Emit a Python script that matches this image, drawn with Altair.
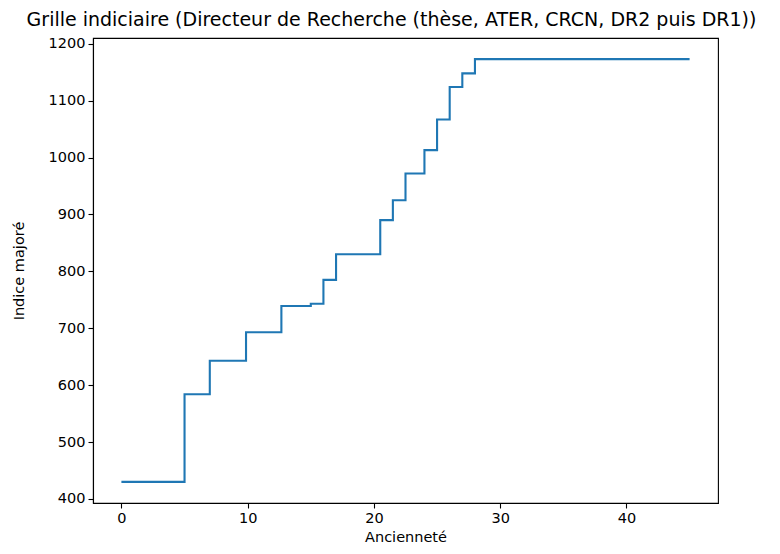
import altair as alt
import pandas as pd

anciennete = [0, 5, 7, 9.87, 12.67, 15, 16, 17, 20.5, 21.5, 22.5, 24, 25, 26, 27, 28, 45]
indice = [430, 584, 643, 693, 739, 743, 785, 830, 890, 925, 972, 1013, 1067, 1124, 1148, 1173, 1173]
x_ticks = [0, 10, 20, 30, 40]
y_ticks = [400, 500, 600, 700, 800, 900, 1000, 1100, 1200]

df = pd.DataFrame({"Ancienneté": anciennete, "Indice": indice})

FONT = "DejaVu Sans"

chart = alt.Chart(df).mark_line(
    interpolate="step-after", color="#1f77b4", strokeWidth=2.1
).encode(
    x=alt.X("Ancienneté:Q",
            scale=alt.Scale(domain=[-2.25, 47.25], nice=False, zero=False),
            axis=alt.Axis(values=x_ticks, title="Ancienneté", grid=False,
                          format="d", titlePadding=6)),
    y=alt.Y("Indice:Q",
            scale=alt.Scale(domain=[392.85, 1210.15], nice=False, zero=False),
            axis=alt.Axis(values=y_ticks, title="Indice majoré", grid=False,
                          format="d", titlePadding=22)),
).properties(
    width=625,
    height=465,
    background="white",
    title=alt.TitleParams(
        "Grille indiciaire (Directeur de Recherche (thèse, ATER, CRCN, DR2 puis DR1))",
        font=FONT, fontSize=19, fontWeight="normal", color="black",
        anchor="middle", offset=6, dx=-14,
    ),
    autosize=alt.AutoSizeParams(type="none"),
    padding={"left": 85, "top": 30, "right": 54, "bottom": 43},
).configure_view(
    stroke="black", strokeWidth=1.1
).configure_axis(
    domainColor="black", domainWidth=1.1, tickColor="black", tickSize=5,
    tickWidth=1.1, labelFont=FONT, labelFontSize=14.5, labelColor="black",
    titleFont=FONT, titleFontSize=14.5, titleFontWeight="normal",
    titleColor="black", labelPadding=3,
)

chart.save("out.html", embed_options={"renderer": "svg", "actions": False})
